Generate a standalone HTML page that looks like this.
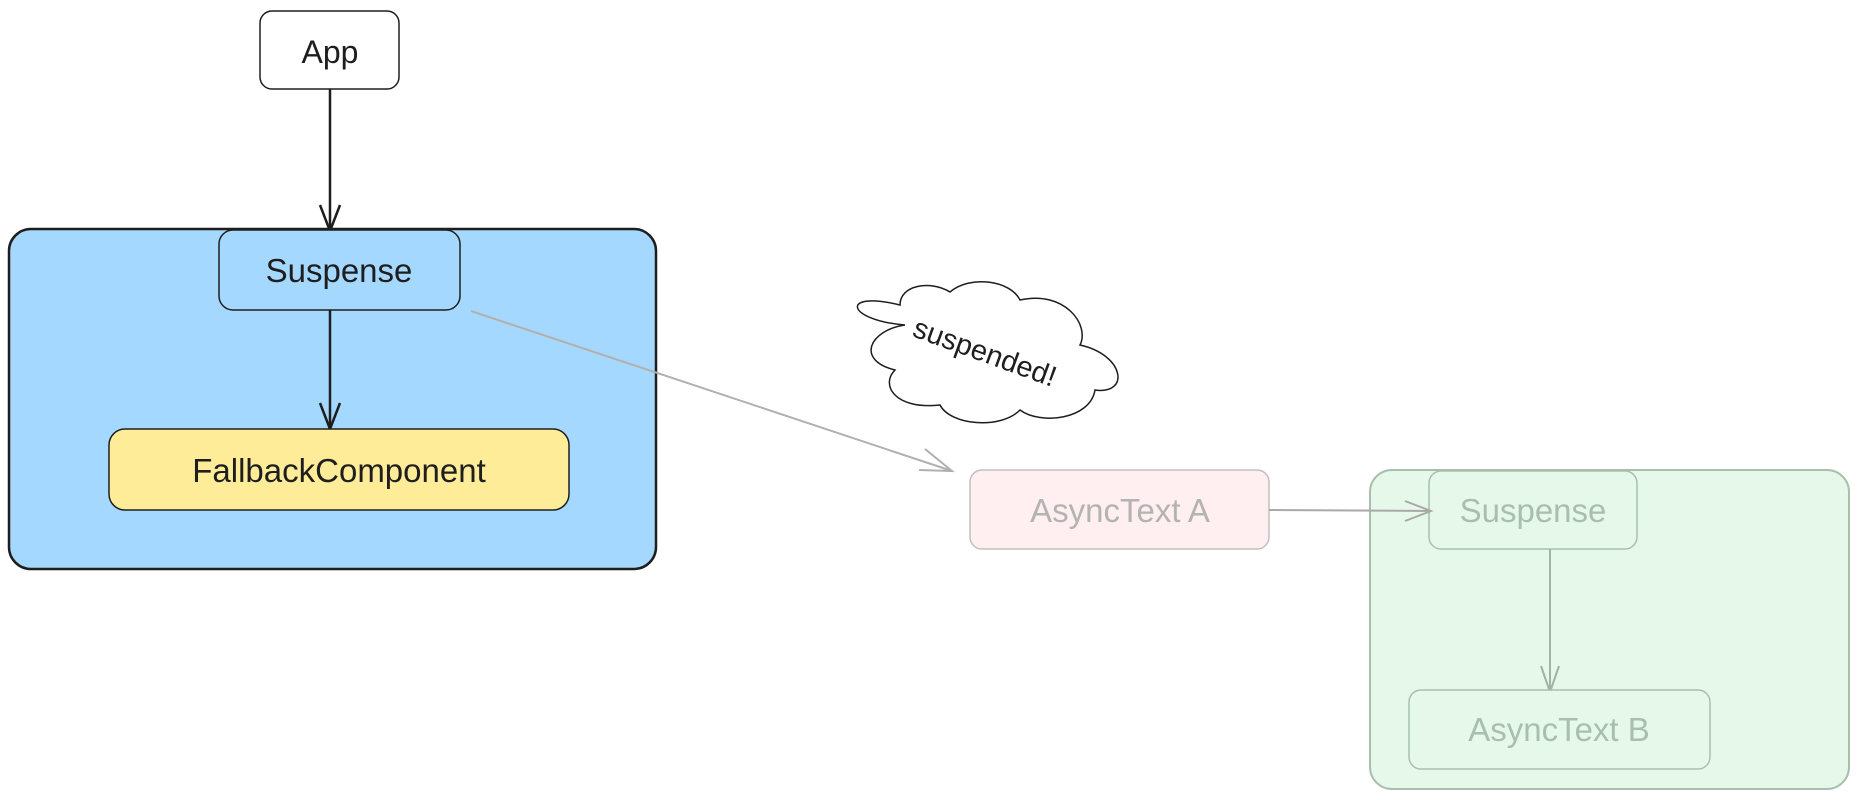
<!DOCTYPE html>
<html><head><meta charset="utf-8"><style>
html,body{margin:0;padding:0;background:#fff;}
svg{display:block}
text{font-family:"Liberation Sans",sans-serif;}
</style></head><body>
<svg width="1860" height="800" viewBox="0 0 1860 800" xmlns="http://www.w3.org/2000/svg">
<!-- App -->
<rect x="260" y="11" width="139" height="78" rx="12" fill="#fff" stroke="#1e1e1e" stroke-width="1.5"/>
<text x="330" y="63" font-size="32" text-anchor="middle" fill="#1e1e1e">App</text>
<line x1="330" y1="89" x2="330" y2="231" stroke="#1e1e1e" stroke-width="2.5"/>
<polyline points="320,205 330,231 340,205" fill="none" stroke="#1e1e1e" stroke-width="2.5"/>
<!-- blue container -->
<rect x="9" y="229" width="647" height="340" rx="22" fill="#a5d8ff" stroke="#1e1e1e" stroke-width="2.5"/>
<rect x="219" y="230" width="241" height="80" rx="14" fill="#a5d8ff" stroke="#1e1e1e" stroke-width="1.5"/>
<text x="339" y="282" font-size="33" text-anchor="middle" fill="#1e1e1e">Suspense</text>
<line x1="330" y1="310" x2="330" y2="429" stroke="#1e1e1e" stroke-width="2.5"/>
<polyline points="320,403 330,429 340,403" fill="none" stroke="#1e1e1e" stroke-width="2.5"/>
<rect x="109" y="429" width="460" height="81" rx="16" fill="#ffec99" stroke="#1e1e1e" stroke-width="1.5"/>
<text x="339" y="482" font-size="33" text-anchor="middle" fill="#1e1e1e">FallbackComponent</text>
<!-- gray arrow -->
<line x1="471" y1="311" x2="952" y2="471" stroke="#b0b0b0" stroke-width="2"/>
<polyline points="925,449 952,471 919,470" fill="none" stroke="#b0b0b0" stroke-width="2"/>
<!-- cloud -->
<path d="M905,325 C845,320 840,290 900,305 C900,285 930,280 950,292 C970,275 1010,280 1020,300 C1065,290 1090,325 1080,345 C1125,355 1130,395 1095,390 C1090,420 1040,425 1020,410 C1000,430 950,425 940,405 C895,410 880,385 895,370 C855,360 870,330 905,325 Z" fill="#fff" stroke="#1e1e1e" stroke-width="1.5"/>
<text x="985" y="362" font-size="29" text-anchor="middle" fill="#1e1e1e" transform="rotate(20 985 352)">suspended!</text>
<!-- AsyncText A -->
<rect x="970" y="470" width="299" height="79" rx="12" fill="#ffeff0" stroke="#c0c0c0" stroke-width="1.5"/>
<text x="1120" y="522" font-size="33" text-anchor="middle" fill="#b3b3b3">AsyncText A</text>
<!-- green container -->
<rect x="1370" y="470" width="479" height="319" rx="22" fill="#e6f8ea" stroke="#a9bfae" stroke-width="2"/>
<rect x="1429" y="471" width="208" height="78" rx="12" fill="#e6f8ea" stroke="#a9bfae" stroke-width="1.5"/>
<text x="1533" y="522" font-size="33" text-anchor="middle" fill="#a9bfae">Suspense</text>
<line x1="1269" y1="510" x2="1431" y2="511" stroke="#a9a9a9" stroke-width="2"/>
<polyline points="1405,501 1431,511 1405,521" fill="none" stroke="#a9a9a9" stroke-width="2"/>
<line x1="1550" y1="549" x2="1550" y2="692" stroke="#9fb3a4" stroke-width="2"/>
<polyline points="1541,666 1550,692 1559,666" fill="none" stroke="#9fb3a4" stroke-width="2"/>
<rect x="1409" y="690" width="301" height="79" rx="12" fill="#e6f8ea" stroke="#a9bfae" stroke-width="1.5"/>
<text x="1559" y="741" font-size="33" text-anchor="middle" fill="#a9bfae">AsyncText B</text>
</svg>
</body></html>
